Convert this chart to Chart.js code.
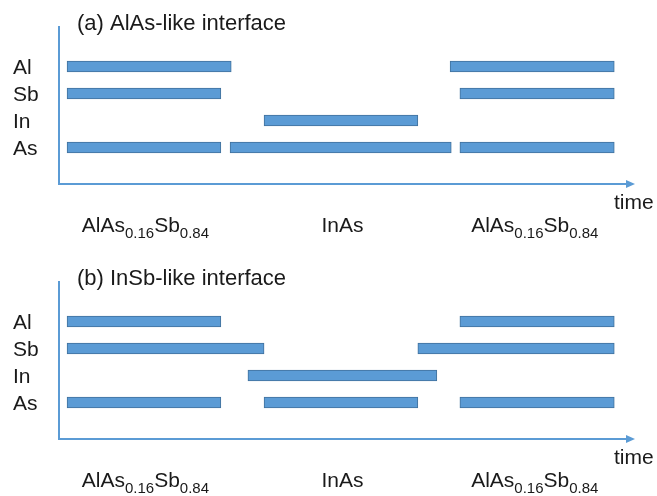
<!DOCTYPE html>
<html>
<head>
<meta charset="utf-8">
<script src="https://cdn.jsdelivr.net/npm/chart.js@4/dist/chart.umd.min.js"></script>
<style>
  html, body { margin: 0; padding: 0; background: #ffffff; overflow: hidden; }
  #wrap { position: relative; width: 657px; height: 496px; }
  .panel { position: absolute; left: 0; width: 657px; height: 241px; }
</style>
</head>
<body>
<div id="wrap">
  <div class="panel" style="top:0px"><canvas id="chartA" width="657" height="241"></canvas></div>
  <div class="panel" style="top:255px"><canvas id="chartB" width="657" height="241"></canvas></div>
</div>
<script>
// Source shutters (rows) and growth time axis (arbitrary units)
const elements = ['Al', 'Sb', 'In', 'As'];
const timeMin = 0;
const timeMax = 100;

// (a) AlAs-like interface: shutter-open intervals [start, end] per element
const aBarrier1 = [[1.4, 29.9], [1.4, 28.1], null, [1.4, 28.1]];
const aWell     = [null, null, [35.6, 62.3], [29.7, 68.1]];
const aBarrier2 = [[67.9, 96.4], [69.6, 96.4], null, [69.6, 96.4]];

// (b) InSb-like interface
const bBarrier1 = [[1.4, 28.1], [1.4, 35.6], null, [1.4, 28.1]];
const bWell     = [null, null, [32.8, 65.6], [35.6, 62.3]];
const bBarrier2 = [[69.6, 96.4], [62.3, 96.4], null, [69.6, 96.4]];

// Layer names under the time axis and the time at which each is centred
const layerLabels  = ['AlAs_{0.16}Sb_{0.84}', 'InAs', 'AlAs_{0.16}Sb_{0.84}'];
const layerCenters = [15.0, 49.2, 82.6];

const panelTitles = ['(a) AlAs-like interface', '(b) InSb-like interface'];
const axisTitle = 'time';

const FONT = "'Liberation Sans', Arial, Helvetica, sans-serif";
const TEXT_COLOR = '#1a1a1a';
const AXIS_COLOR = '#5B9BD5';
const BAR_FILL = '#5B9BD5';
const BAR_EDGE = '#41719C';

// Split "AlAs_{0.16}Sb_{0.84}" into normal / subscript runs
function parseRuns(label) {
  const runs = [];
  const re = /_\{([^}]*)\}/g;
  let last = 0, m;
  while ((m = re.exec(label)) !== null) {
    if (m.index > last) runs.push({ t: label.slice(last, m.index), sub: false });
    runs.push({ t: m[1], sub: true });
    last = re.lastIndex;
  }
  if (last < label.length) runs.push({ t: label.slice(last), sub: false });
  return runs;
}

function drawRich(ctx, label, cx, baseline) {
  const runs = parseRuns(label);
  const mainFont = '21px ' + FONT;
  const subFont = '15px ' + FONT;
  let total = 0;
  runs.forEach(r => { ctx.font = r.sub ? subFont : mainFont; r.w = ctx.measureText(r.t).width; total += r.w; });
  let x = cx - total / 2;
  ctx.textAlign = 'left';
  ctx.textBaseline = 'alphabetic';
  runs.forEach(r => {
    ctx.font = r.sub ? subFont : mainFont;
    ctx.fillText(r.t, x, baseline + (r.sub ? 6 : 0));
    x += r.w;
  });
}

// Axis arrows, panel title, time label and layer names
const timingDecor = {
  id: 'timingDecor',
  afterDraw(chart, args, opts) {
    const { ctx, chartArea: a, scales } = chart;
    const band = (a.bottom - a.top) / elements.length;
    const axisY = a.bottom + 0.85 * band;
    const axisTop = a.top - band;
    ctx.save();
    ctx.strokeStyle = AXIS_COLOR;
    ctx.fillStyle = AXIS_COLOR;
    ctx.lineWidth = 2;
    ctx.beginPath();
    ctx.moveTo(a.left, axisTop);
    ctx.lineTo(a.left, axisY);
    ctx.lineTo(a.right - 6, axisY);
    ctx.stroke();
    ctx.beginPath();
    ctx.moveTo(a.right, axisY);
    ctx.lineTo(a.right - 9, axisY - 4);
    ctx.lineTo(a.right - 9, axisY + 4);
    ctx.closePath();
    ctx.fill();

    ctx.fillStyle = TEXT_COLOR;
    ctx.font = '22px ' + FONT;
    ctx.textAlign = 'left';
    ctx.textBaseline = 'alphabetic';
    ctx.fillText(opts.title, a.left + 18, a.top - 23);

    ctx.font = '21px ' + FONT;
    ctx.fillText(axisTitle, a.right - 21, axisY + 25);

    layerLabels.forEach((lab, i) => {
      drawRich(ctx, lab, scales.x.getPixelForValue(layerCenters[i]), axisY + 48);
    });
    ctx.restore();
  }
};

function makePanel(canvasId, title, barrier1, well, barrier2) {
  const ds = (label, data) => ({
    label, data,
    backgroundColor: BAR_FILL,
    borderColor: BAR_EDGE,
    borderWidth: 1,
    borderSkipped: false,
    barThickness: 11,
    grouped: false
  });
  return new Chart(document.getElementById(canvasId), {
    type: 'bar',
    data: {
      labels: elements,
      datasets: [ds('barrier 1', barrier1), ds('well', well), ds('barrier 2', barrier2)]
    },
    options: {
      indexAxis: 'y',
      responsive: false,
      animation: false,
      layout: { padding: { left: 13, right: 22, top: 53, bottom: 80 } },
      plugins: {
        legend: { display: false },
        tooltip: { enabled: false },
        title: { display: false },
        timingDecor: { title }
      },
      scales: {
        x: { type: 'linear', min: timeMin, max: timeMax, display: false },
        y: {
          type: 'category',
          offset: true,
          grid: { display: false },
          border: { display: false },
          ticks: {
            color: TEXT_COLOR,
            font: { family: FONT, size: 21 },
            crossAlign: 'far',
            autoSkip: false,
            padding: 0,
            labelOffset: 2
          },
          afterFit(scale) { scale.width = 46; }
        }
      }
    },
    plugins: [timingDecor]
  });
}

makePanel('chartA', panelTitles[0], aBarrier1, aWell, aBarrier2);
makePanel('chartB', panelTitles[1], bBarrier1, bWell, bBarrier2);
</script>
</body>
</html>
